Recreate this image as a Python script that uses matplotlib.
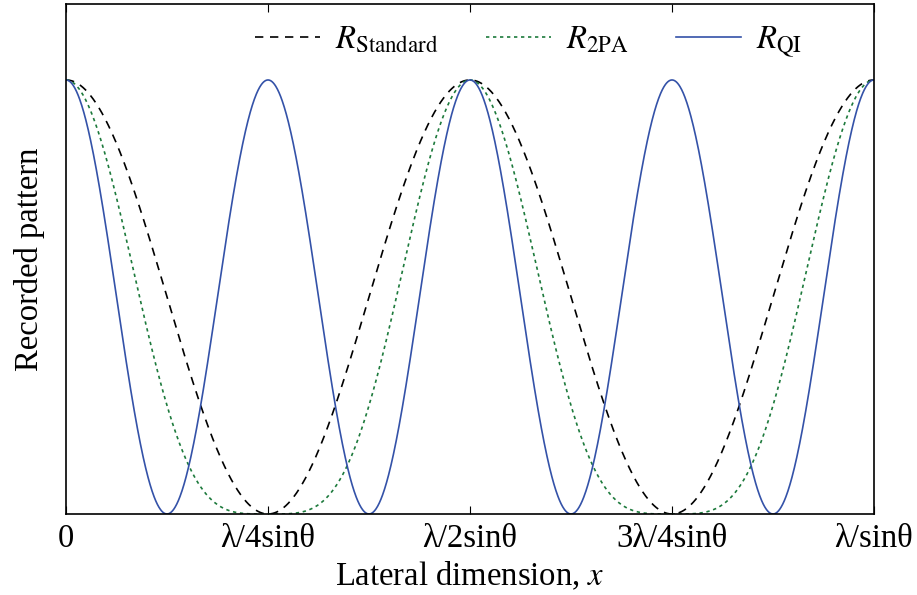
import numpy as np
import matplotlib
matplotlib.use("Agg")
import matplotlib.pyplot as plt

plt.rcParams['font.family'] = ['Liberation Serif', 'DejaVu Serif']
plt.rcParams['mathtext.fontset'] = 'stix'

# x in units of lambda/sin(theta)
tick_pos = [0, 0.25, 0.5, 0.75, 1.0]
tick_labels = ['0', 'λ/4sinθ', 'λ/2sinθ', '3λ/4sinθ', 'λ/sinθ']

# each curve: peak spacing (in lambda/sin theta) and power of cos^2
names = [r'$R_{\mathrm{Standard}}$', r'$R_{\mathrm{2PA}}$', r'$R_{\mathrm{QI}}$']
periods = [0.5, 0.5, 0.25]
powers = [1, 2, 1]
colors = ['black', '#1d7a3c', '#3452a8']
styles = [(0, (5, 4)), (0, (2, 2.2)), '-']

x = np.linspace(0, 1, 2000)

fig = plt.figure(figsize=(9.17, 5.95), dpi=100)
ax = fig.add_axes([66/917, 1-514/595, 808/917, 510/595])

for name, p, n, c, ls in zip(names, periods, powers, colors, styles):
    y = np.cos(np.pi * x / p) ** (2 * n)
    ax.plot(x, y, color=c, linestyle=ls, linewidth=1.2, label=name)

ax.set_xlim(0, 1)
ax.set_ylim(0, 1.175)
ax.set_xticks(tick_pos)
ax.set_xticklabels(tick_labels, fontsize=23.5)
ax.set_yticks([])
ax.tick_params(axis='x', direction='in', top=True, length=6, pad=7)
for s in ax.spines.values():
    s.set_linewidth(1.2)

ax.set_xlabel('Lateral dimension, $x$', fontsize=23.5, labelpad=4)
ax.set_ylabel('Recorded pattern', fontsize=23.5, labelpad=15)

ax.legend(loc='center left', ncol=3, frameon=False, fontsize=23.5,
          handlelength=2.0, handletextpad=0.45, columnspacing=1.45,
          borderpad=0, borderaxespad=0, bbox_to_anchor=(0.234, 0.925))

fig.savefig('out.png', dpi=100)
